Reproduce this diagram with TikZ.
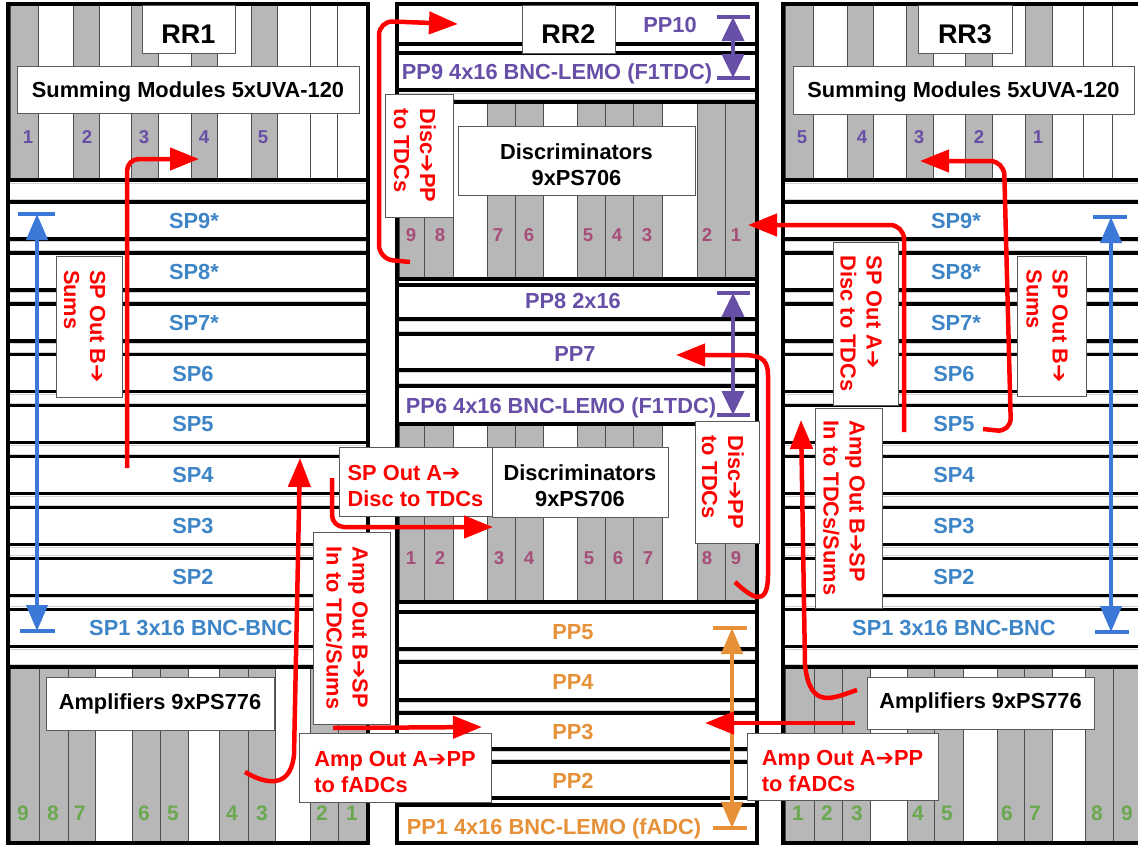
\documentclass[tikz,border=0pt]{standalone}
\usepackage{fontspec}
\setmainfont{Liberation Sans}
\newfontfamily\djv{DejaVu Sans}
\usetikzlibrary{arrows.meta}
\definecolor{cred}{RGB}{255,0,0}
\definecolor{cpurple}{RGB}{103,78,167}
\definecolor{cblue}{RGB}{61,133,198}
\definecolor{cablue}{RGB}{60,120,216}
\definecolor{corange}{RGB}{230,145,56}
\definecolor{cgreen}{RGB}{106,168,79}
\definecolor{cmauve}{RGB}{166,77,121}
\definecolor{cslot}{RGB}{183,183,183}
\newcommand{\rar}{{\djv\mdseries ➔}}
\newcommand{\tup}{\rule{0pt}{24pt}}
\tikzset{
  panel/.style={draw=black, line width=3.4pt, fill=white},
  crate/.style={draw=black, line width=3.6pt},
  gs/.style={fill=cslot, draw=black!70, line width=1pt},
  ws/.style={fill=white, draw=black!70, line width=1pt},
  gapline/.style={draw=black!18, line width=0.7pt},
  lbl/.style={font=\fontsize{21.8}{26}\selectfont\bfseries, inner sep=0pt, text height=15.6pt, text depth=0pt},
  wbox/.style={draw=black!65, line width=1pt, fill=white, inner sep=0pt, font=\fontsize{21.8}{26}\selectfont\bfseries, align=center},
  rbox/.style={wbox, text=cred, align=left},
  rrbox/.style={wbox, font=\fontsize{27}{30}\selectfont\bfseries, text height=28pt, text depth=0pt},
  snum/.style={font=\fontsize{18.6}{20}\selectfont\bfseries, inner sep=0pt, text height=13.3pt, text depth=0pt},
  anum/.style={font=\fontsize{21}{22}\selectfont\bfseries, inner sep=0pt, text height=15pt, text depth=0pt, text=cgreen},
  redarr/.style={draw=cred, line width=4.5pt, -{Triangle[length=29pt,width=22pt]}},
  rng/.style={line width=4pt, {Triangle[length=26pt,width=21pt]}-{Triangle[length=26pt,width=21pt]}},
  rngs/.style={line width=4pt, {Triangle[length=24pt,width=22pt]}-{Triangle[length=24pt,width=22pt]}},
  rbar/.style={line width=4pt},
}
\begin{document}
\begin{tikzpicture}[x=1pt,y=-1pt]
\useasboundingbox (0,0) rectangle (1138,846);
\clip (0,0) rectangle (1138,846);
\fill[white] (0,0) rectangle (1138,846);

% ================= RR1 =================
\foreach \xa/\xb/\st in {10/38/gs,38/73/ws,73/99/gs,99/131/ws,131/158/gs,158/191/ws,191/217/gs,217/251/ws,251/277/gs,277/310/ws,310/337/ws,337/366/ws}
  \draw[\st] (\xa,4) rectangle (\xb,180);
\draw[crate] (8,4) rectangle (368,180);
\foreach \xa/\xb/\st in {10/39/gs,39/68/gs,68/95/gs,95/132/ws,132/160/gs,160/188/gs,188/219/ws,219/248/gs,248/275/gs,275/310/ws,310/338/gs,338/366/gs}
  \draw[\st] (\xa,667) rectangle (\xb,843);
\draw[crate] (8,667) rectangle (368,843);

% ================= RR3 =================
\foreach \xa/\xb/\st in {785/813/gs,813/847/ws,847/873/gs,873/906/ws,906/933/gs,933/965/ws,965/992/gs,992/1025/ws,1025/1052/gs,1052/1083/ws,1083/1112/ws,1112/1150/ws}
  \draw[\st] (\xa,4) rectangle (\xb,180);
\draw[crate] (783,4) rectangle (1150,180);
\foreach \xa/\xb/\st in {785/814/gs,814/842/gs,842/870/gs,870/907/ws,907/934/gs,934/963/gs,963/997/ws,997/1024/gs,1024/1052/gs,1052/1085/ws,1085/1113/gs,1113/1141/gs,1141/1150/ws}
  \draw[\st] (\xa,667) rectangle (\xb,843);
\draw[crate] (783,667) rectangle (1150,843);

% SP panels of RR1 and RR3
\foreach \k in {0,...,8}{
  \pgfmathsetmacro{\ta}{202+50.9*\k}
  \pgfmathsetmacro{\tb}{\ta+37}
  \draw[panel] (8,\ta) rectangle (368,\tb);
  \draw[panel] (783,\ta) rectangle (1150,\tb);
}
\foreach \k in {0,...,7}{
  \pgfmathsetmacro{\ga}{202+50.9*\k+39.5}
  \pgfmathsetmacro{\gb}{202+50.9*(\k+1)-2.5}
  \draw[gapline] (10,\ga) -- (366,\ga) (10,\gb) -- (366,\gb);
  \draw[gapline] (785,\ga) -- (1150,\ga) (785,\gb) -- (1150,\gb);
}
\draw[gapline] (10,183.5) -- (366,183.5) (10,199.5) -- (366,199.5) (10,649) -- (366,649) (10,664) -- (366,664);
\draw[gapline] (785,183.5) -- (1150,183.5) (785,199.5) -- (1150,199.5) (785,649) -- (1150,649) (785,664) -- (1150,664);
\draw[crate] (8,4) -- (8,843) (368,4) -- (368,843) (783,4) -- (783,843);

% ================= RR2 =================
\draw[panel] (397,4) rectangle (757,44);
\draw[panel] (397,53) rectangle (757,90);
\foreach \xa/\xb/\st in {399/424/gs,424/453/gs,453/487/ws,487/515/gs,515/543/gs,543/577/ws,577/605/gs,605/633/gs,633/662/gs,662/697/ws,697/725/gs,725/755/gs}{
  \draw[\st] (\xa,102) rectangle (\xb,279);
  \draw[\st] (\xa,424) rectangle (\xb,602);
}
\draw[crate] (397,102) rectangle (757,279);
\draw[panel] (397,285) rectangle (757,319);
\draw[panel] (397,334) rectangle (757,370);
\draw[panel] (397,386) rectangle (757,424);
\draw[crate] (397,424) rectangle (757,602);
\draw[panel] (397,612) rectangle (757,649);
\draw[panel] (397,662) rectangle (757,700);
\draw[panel] (397,713) rectangle (757,749);
\draw[panel] (397,762) rectangle (757,798);
\draw[panel] (397,805) rectangle (757,843);
\foreach \ga/\gb in {93/99,321.5/331.5,372.5/383.5,651.5/659.5,702.5/710.5,751.5/759.5}
  \draw[gapline] (399,\ga) -- (755,\ga) (399,\gb) -- (755,\gb);
\draw[crate] (397,4) -- (397,843) (757,4) -- (757,843);

% ================= slot numbers =================
\foreach \n/\x in {1/28,2/87,3/144,4/204,5/263}
  \node[snum, text=cpurple] (sa\n) at (\x,137) {\n};
\foreach \n/\x in {5/802,4/862,3/919,2/979,1/1038}
  \node[snum, text=cpurple] (sc\n) at (\x,137) {\n};
\foreach \n/\x in {9/411,8/440,7/498,6/529,5/588,4/617,3/647,2/707,1/736}
  \node[snum, text=cmauve] (dt\n) at (\x,235) {\n};
\foreach \n/\x in {1/411,2/440,3/499,4/529,5/589,6/618,7/648,8/707,9/736}
  \node[snum, text=cmauve] (dm\n) at (\x,558) {\n};
\foreach \n/\x in {9/23,8/53,7/80,6/144,5/173,4/232,3/262,2/322,1/352}
  \node[anum] (aa\n) at (\x,813) {\n};
\foreach \n/\x in {1/798,2/827,3/857,4/918,5/947,6/1007,7/1035,8/1097,9/1127}
  \node[anum] (ac\n) at (\x,813) {\n};

% ================= panel labels =================
\node[lbl, text=cblue] (sp9a) at (194,220.5) {SP9*};
\node[lbl, text=cblue] (sp8a) at (194,271.4) {SP8*};
\node[lbl, text=cblue] (sp7a) at (194,322.3) {SP7*};
\node[lbl, text=cblue] (sp6a) at (193,373.2) {SP6};
\node[lbl, text=cblue] (sp5a) at (193,424.1) {SP5};
\node[lbl, text=cblue] (sp4a) at (193,475) {SP4};
\node[lbl, text=cblue] (sp3a) at (193,525.9) {SP3};
\node[lbl, text=cblue] (sp2a) at (193,576.8) {SP2};
\node[lbl, text=cblue] (sp1a) at (191,627.7) {SP1 3x16 BNC-BNC};
\node[lbl, text=cblue] (sp9c) at (956,220.5) {SP9*};
\node[lbl, text=cblue] (sp8c) at (956,271.4) {SP8*};
\node[lbl, text=cblue] (sp7c) at (956,322.3) {SP7*};
\node[lbl, text=cblue] (sp6c) at (954,373.2) {SP6};
\node[lbl, text=cblue] (sp5c) at (954,424.1) {SP5};
\node[lbl, text=cblue] (sp4c) at (954,475) {SP4};
\node[lbl, text=cblue] (sp3c) at (954,525.9) {SP3};
\node[lbl, text=cblue] (sp2c) at (954,576.8) {SP2};
\node[lbl, text=cblue] (sp1c) at (954,627.7) {SP1 3x16 BNC-BNC};

\node[lbl, text=cpurple] (pp10) at (670,25) {PP10};
\node[lbl, text=cpurple] (pp9) at (557,72) {PP9 4x16 BNC-LEMO (F1TDC)};
\node[lbl, text=cpurple] (pp8) at (573,301) {PP8 2x16};
\node[lbl, text=cpurple] (pp7) at (575,354) {PP7};
\node[lbl, text=cpurple] (pp6) at (561,406) {PP6 4x16 BNC-LEMO (F1TDC)};
\node[lbl, text=corange] (pp5) at (573,632) {PP5};
\node[lbl, text=corange] (pp4) at (573,682) {PP4};
\node[lbl, text=corange] (pp3) at (573,732) {PP3};
\node[lbl, text=corange] (pp2) at (573,781) {PP2};
\node[lbl, text=corange] (pp1) at (554,827) {PP1 4x16 BNC-LEMO (fADC)};

% ================= boxes =================
\node[rrbox, minimum width=93pt, minimum height=48pt] (rr1) at (188.5,29) {RR1};
\node[rrbox, minimum width=93pt, minimum height=48pt] (rr2) at (568.5,29) {RR2};
\node[rrbox, minimum width=94pt, minimum height=48pt] (rr3) at (965,29) {RR3};
\node[wbox, minimum width=342pt, minimum height=47pt, text height=15.6pt, text depth=0pt] (sum1) at (188,89.5) {Summing Modules 5xUVA-120};
\node[wbox, minimum width=341pt, minimum height=48pt, text height=15.6pt, text depth=0pt] (sum3) at (963.5,90) {Summing Modules 5xUVA-120};
\node[wbox, minimum width=237pt, minimum height=69pt] (disct) at (576.5,160.5) {\tup Discriminators\\9xPS706};
\node[wbox, minimum width=176pt, minimum height=70pt] (discm) at (580,482) {\tup Discriminators\\9xPS706};
\node[wbox, minimum width=228pt, minimum height=53pt] (amp1) at (160,703.5) {Amplifiers 9xPS776};
\node[wbox, minimum width=227pt, minimum height=52pt] (amp3) at (980.5,703) {Amplifiers 9xPS776};

\node[rbox, rotate=-90, minimum width=123pt, minimum height=68pt] (dpp1) at (419,155.5) {\tup Disc\rar PP\\to TDCs};
\node[rbox, rotate=-90, minimum width=141pt, minimum height=66pt] (spb1) at (89,326.5) {\tup SP Out B\rar\\Sums};
\node[rbox, minimum width=153pt, minimum height=69pt] (spa2) at (415.5,481.5) {\tup SP Out A\rar\\Disc to TDCs};
\node[rbox, rotate=-90, minimum width=192pt, minimum height=77pt] (ampb1) at (351.5,628) {\tup Amp Out B\rar SP\\In to TDC/Sums};
\node[rbox, minimum width=192pt, minimum height=69pt] (ampa1) at (395,767.5) {\tup Amp Out A\rar PP\\to fADCs};
\node[rbox, rotate=-90, minimum width=122pt, minimum height=64pt] (dpp2) at (727,482) {\tup Disc\rar PP\\to TDCs};
\node[rbox, rotate=-90, minimum width=163pt, minimum height=65pt] (spa3) at (865.5,323.5) {\tup SP Out A\rar\\Disc to TDCs};
\node[rbox, rotate=-90, minimum width=140pt, minimum height=69pt] (spb3) at (1051.5,326) {\tup SP Out B\rar\\Sums};
\node[rbox, rotate=-90, minimum width=200pt, minimum height=67pt] (ampb3) at (848.5,508) {\tup Amp Out B\rar SP\\In to TDCs/Sums};
\node[rbox, minimum width=191pt, minimum height=67pt] (ampa3) at (842.5,766.5) {\tup Amp Out A\rar PP\\to fADCs};

% ================= range arrows =================
\coordinate (b1t) at (37,214);  \coordinate (b1b) at (37,631);
\draw[rbar, cablue] (18,214) -- (55,214) (20,631) -- (55,631);
\draw[rng, cablue] (b1t) -- (b1b);
\coordinate (b3t) at (1111,217); \coordinate (b3b) at (1111,632);
\draw[rbar, cablue] (1093,217) -- (1127,217) (1095,632) -- (1129,632);
\draw[rng, cablue] (b3t) -- (b3b);
\coordinate (p1t) at (733,17); \coordinate (p1b) at (733,78);
\draw[rbar, cpurple] (717,17) -- (750,17) (717,78) -- (750,78);
\draw[rngs, cpurple] (p1t) -- (p1b);
\coordinate (p2t) at (733,293); \coordinate (p2b) at (733,415);
\draw[rbar, cpurple] (717,293) -- (750,293) (717,415) -- (750,415);
\draw[rngs, cpurple] (p2t) -- (p2b);
\coordinate (o1t) at (732,628); \coordinate (o1b) at (732,828);
\draw[rbar, corange] (713,628) -- (747,628) (713,828) -- (747,828);
\draw[rng, corange] (o1t) -- (o1b);

% ================= red connectors =================
\coordinate (r1s) at (127,468);  \coordinate (r1e) at (199,159);
\draw[redarr, rounded corners=12pt] (r1s) -- (127,159) -- (r1e);
\coordinate (r2s) at (410,262);  \coordinate (r2e) at (458,24);
\draw[redarr, rounded corners=14pt] (r2s) -- (379,259) -- (379,21) -- (r2e);
\coordinate (r3s) at (983,429);  \coordinate (r3e) at (920,161);
\draw[redarr, rounded corners=14pt] (r3s) -- (1011,432) -- (1004,161) -- (r3e);
\coordinate (r4s) at (904,432);  \coordinate (r4e) at (748,225);
\draw[redarr, rounded corners=14pt] (r4s) -- (904,225) -- (r4e);
\coordinate (r5s) at (735,582);  \coordinate (r5e) at (676,355);
\draw[redarr] (r5s) .. controls (750,596) and (768,610) .. (768,575) -- (768,375) .. controls (768,357) and (758,355) .. (740,355) -- (r5e);
\coordinate (r6s) at (332,478);  \coordinate (r6e) at (493,527);
\draw[redarr, rounded corners=12pt] (r6s) -- (332,527) -- (r6e);
\coordinate (r7s) at (245,772);  \coordinate (r7e) at (300,458);
\draw[redarr] (r7s) .. controls (262,782) and (290,792) .. (294,755) -- (r7e);
\coordinate (r8s) at (333,728);  \coordinate (r8e) at (482,727);
\draw[redarr] (r8s) -- (r8e);
\coordinate (r9s) at (855,723);  \coordinate (r9e) at (705,723);
\draw[redarr] (r9s) -- (r9e);
\coordinate (r10s) at (857,690); \coordinate (r10e) at (801,420);
\draw[redarr] (r10s) .. controls (835,697) and (810,712) .. (805,665) -- (r10e);
\end{tikzpicture}
\end{document}
